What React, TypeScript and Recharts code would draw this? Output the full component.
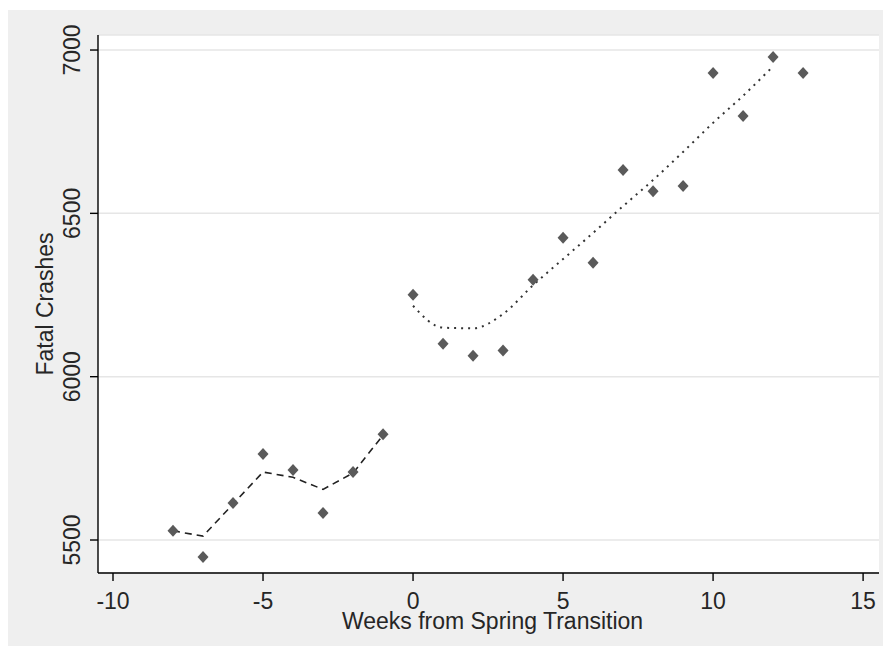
import { CartesianGrid, ComposedChart, Line, Scatter, XAxis, YAxis } from "recharts";

// Weekly fatal crash counts around the spring clock change
const weeks = [-8, -7, -6, -5, -4, -3, -2, -1, 0, 1, 2, 3, 4, 5, 6, 7, 8, 9, 10, 11, 12, 13];
const crashes = [
  5528, 5448, 5613, 5763, 5714, 5583, 5708, 5824, 6251, 6101, 6064, 6080, 6297, 6425, 6349, 6633, 6568,
  6584, 6930, 6798, 6979, 6930,
];

// Smoothed fit before the transition (dashed) and after it (dotted)
const preWeeks = [-8, -7, -6, -5, -4, -3, -2, -1];
const preFit = [5528, 5512, 5610, 5708, 5692, 5655, 5705, 5821];
const postWeeks = [0, 1, 2, 3, 4, 5, 6, 7, 8, 9, 10, 11, 12];
const postFit = [6217, 6150, 6148, 6192, 6280, 6360, 6440, 6522, 6602, 6688, 6777, 6860, 6950];

const xTicks = [-10, -5, 0, 5, 10, 15];
const yTicks = [5500, 6000, 6500, 7000];

const points = weeks.map((x, i) => ({ x, y: crashes[i] }));
const preLine = preWeeks.map((x, i) => ({ x, y: preFit[i] }));
const postLine = postWeeks.map((x, i) => ({ x, y: postFit[i] }));

const FONT = '"Liberation Sans", Arial, sans-serif';
const TEXT = "#262626";
const SIZE = 23;

function Diamond({ cx, cy }: { cx?: number; cy?: number }) {
  if (cx == null || cy == null) return null;
  return <polygon points={`${cx},${cy - 6} ${cx + 5.5},${cy} ${cx},${cy + 6} ${cx - 5.5},${cy}`} fill="#5a5a5a" />;
}

function XTick({ x, y, payload }: any) {
  return (
    <text x={x} y={y + 26} textAnchor="middle" fontSize={SIZE} fontFamily={FONT} fill={TEXT}>
      {payload.value}
    </text>
  );
}

function YTick({ x, y, payload }: any) {
  return (
    <text
      transform={`translate(${x - 8},${y}) rotate(-90)`}
      textAnchor="middle"
      fontSize={SIZE}
      fontFamily={FONT}
      fill={TEXT}
    >
      {payload.value}
    </text>
  );
}

export default function App() {
  return (
    <div style={{ width: 878, height: 636, marginTop: 2, background: "#efefef" }}>
      <ComposedChart width={878} height={636} margin={{ top: 25, right: 7, bottom: 0, left: 0 }}>
        <CartesianGrid vertical={false} fill="#ffffff" stroke="#e6e6e6" strokeWidth={1.5} />
        <XAxis
          type="number"
          dataKey="x"
          domain={[-10.5, 15.53]}
          ticks={xTicks}
          allowDataOverflow
          height={73}
          stroke="#000"
          strokeWidth={1.4}
          tickSize={8}
          tickMargin={2}
          tick={<XTick />}
          label={{
            content: ({ viewBox }: any) => (
              <text
                x={viewBox.x + viewBox.width / 2 + 4}
                y={viewBox.y + 56}
                textAnchor="middle"
                fontSize={SIZE}
                fontFamily={FONT}
                fill={TEXT}
              >
                Weeks from Spring Transition
              </text>
            ),
          }}
        />
        <YAxis
          type="number"
          dataKey="y"
          domain={[5399, 7046]}
          ticks={yTicks}
          allowDataOverflow
          width={90}
          stroke="#000"
          strokeWidth={1.4}
          tickSize={8}
          tickMargin={2}
          tick={<YTick />}
          label={{
            content: ({ viewBox }: any) => (
              <text
                transform={`translate(${viewBox.x + 45},${viewBox.y + viewBox.height / 2}) rotate(-90)`}
                textAnchor="middle"
                fontSize={SIZE}
                fontFamily={FONT}
                fill={TEXT}
              >
                Fatal Crashes
              </text>
            ),
          }}
        />
        <Line
          data={preLine}
          dataKey="y"
          type="linear"
          stroke="#222"
          strokeWidth={1.6}
          strokeDasharray="7 5"
          dot={false}
          activeDot={false}
          isAnimationActive={false}
        />
        <Line
          data={postLine}
          dataKey="y"
          type="monotone"
          stroke="#333"
          strokeWidth={2}
          strokeDasharray="2 5"
          dot={false}
          activeDot={false}
          isAnimationActive={false}
        />
        <Scatter data={points} dataKey="y" shape={<Diamond />} isAnimationActive={false} />
      </ComposedChart>
    </div>
  );
}
